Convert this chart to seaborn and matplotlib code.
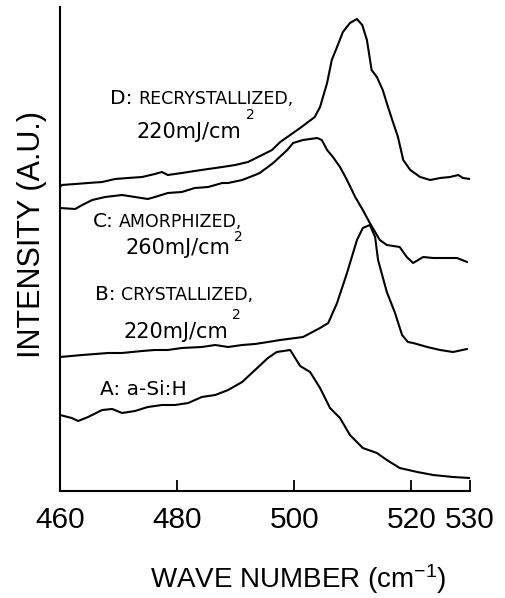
import matplotlib
matplotlib.use("Agg")
import matplotlib.pyplot as plt
import pandas as pd
import seaborn as sns

# Raman spectra, wave number (cm^-1) vs. intensity (arbitrary units, curves offset)
wn_a = [460.0, 462.0, 463.1, 464.8, 467.2, 468.9, 470.6, 472.8, 475.0, 477.4,
        479.6, 481.9, 484.2, 486.5, 488.7, 491.1, 493.3, 495.5, 497.0, 499.3,
        501.0, 502.7, 504.4, 506.1, 507.8, 509.5, 511.7, 514.1, 515.8, 518.0,
        521.0, 523.7, 527.1, 530.0]
int_a = [76, 73, 70, 74, 81, 82, 78, 80, 84, 86,
         86, 88, 94, 96, 101, 109, 121, 133, 139, 141,
         125, 119, 103, 83, 73, 56, 43, 38, 31, 23,
         19, 16, 14, 13]

wn_b = [460.0, 463.8, 466.0, 468.2, 470.6, 474.0, 476.2, 478.4, 480.8, 484.2,
        486.5, 488.7, 491.1, 493.3, 495.5, 497.6, 501.5, 504.4, 505.8, 507.3,
        509.0, 510.7, 511.7, 512.9, 513.8, 514.3, 515.8, 517.2, 518.4, 519.4,
        520.3, 522.7, 524.9, 527.1, 529.5]
int_b = [134, 136, 137, 138, 138, 140, 141, 141, 143, 144,
         146, 144, 146, 147, 149, 151, 154, 163, 168, 188,
         218, 251, 263, 266, 254, 231, 199, 178, 156, 149,
         148, 144, 141, 139, 142]

wn_c = [460.0, 462.6, 463.8, 465.5, 467.7, 470.6, 472.8, 475.0, 476.2, 478.4,
        480.8, 483.0, 485.3, 487.7, 488.7, 491.1, 493.3, 494.1, 496.4, 498.8,
        499.8, 501.5, 503.9, 504.7, 505.6, 506.6, 507.8, 509.0, 510.4, 511.7,
        512.9, 514.6, 515.8, 518.0, 519.2, 520.3, 522.0, 523.7, 526.1, 527.8,
        529.5]
int_c = [283, 282, 286, 291, 294, 296, 294, 292, 294, 298,
         299, 303, 304, 308, 308, 311, 316, 318, 328, 341,
         348, 351, 353, 351, 341, 334, 324, 311, 294, 281,
         268, 251, 246, 244, 234, 228, 234, 233, 233, 233,
         229]

wn_d = [460.0, 460.3, 462.6, 464.8, 467.2, 469.4, 471.6, 474.0, 476.2, 477.4,
        478.4, 480.8, 483.0, 485.3, 487.7, 489.9, 492.1, 494.5, 496.2, 497.6,
        501.0, 503.5, 504.4, 505.6, 506.4, 507.3, 508.3, 509.5, 510.7, 511.6,
        512.4, 513.2, 514.1, 515.1, 516.0, 516.9, 517.7, 518.6, 519.8, 521.5,
        523.2, 524.9, 526.6, 528.0, 528.8, 530.0]
int_d = [304, 306, 307, 308, 309, 312, 313, 314, 317, 319,
         316, 318, 320, 322, 324, 326, 329, 336, 341, 349,
         363, 374, 384, 408, 431, 444, 459, 468, 472, 466,
         451, 421, 414, 401, 384, 368, 354, 331, 321, 314,
         311, 313, 314, 316, 313, 312]

tick_values = [460, 480, 500, 520, 530]
tick_labels = ["460", "480", "500", "520", "530"]

frames = []
for name, wn, inten in [("A", wn_a, int_a), ("B", wn_b, int_b),
                        ("C", wn_c, int_c), ("D", wn_d, int_d)]:
    frames.append(pd.DataFrame({"wavenumber": wn, "intensity": inten,
                                "spectrum": name}))
df = pd.concat(frames, ignore_index=True)

sns.set_style("ticks")
plt.rcParams["font.family"] = ["Liberation Sans", "DejaVu Sans"]
plt.rcParams["mathtext.fontset"] = "custom"
plt.rcParams["mathtext.rm"] = "Liberation Sans"
plt.rcParams["mathtext.it"] = "Liberation Sans:italic"
plt.rcParams["mathtext.bf"] = "Liberation Sans:bold"
plt.rcParams["text.color"] = "black"
plt.rcParams["axes.labelcolor"] = "black"
plt.rcParams["xtick.color"] = "black"
plt.rcParams["ytick.color"] = "black"

fig = plt.figure(figsize=(5.06, 5.98), dpi=100)
ax = fig.add_axes([60 / 506, (598 - 491) / 598, 410 / 506, 484 / 598])

sns.lineplot(data=df, x="wavenumber", y="intensity", units="spectrum",
             estimator=None, sort=False, color="black", linewidth=1.5,
             legend=False, ax=ax)

ax.set_xlim(460, 530)
ax.set_ylim(0, 484)
sns.despine(ax=ax)
for sp in ("left", "bottom"):
    ax.spines[sp].set_linewidth(1.5)
    ax.spines[sp].set_color("black")

ax.set_yticks([])
ax.set_xticks(tick_values)
ax.set_xticklabels(tick_labels)
ax.tick_params(axis="x", direction="in", length=8, width=1.3, pad=11,
               labelsize=21.5, colors="black")

ax.set_xlabel("WAVE NUMBER (cm$^{-1}$)", fontsize=20)
ax.xaxis.set_label_coords(0.58, -0.147)
ax.set_ylabel("INTENSITY (A.U.)", fontsize=22)
ax.yaxis.set_label_coords(-0.032, 0.53)

# Curve annotations: large initial letter, small-caps description, fluence line
ann_font = ["DejaVu Sans"]


def label(x, y, head, body, x2=None, y2=None, fluence=None, sup_dy=-1):
    t_head = ax.text(x, y, head, fontsize=14.5, family=ann_font,
                     va="baseline", ha="left")
    if body:
        ax.annotate(body, xy=(1, 0), xycoords=t_head, xytext=(4, 0),
                    textcoords="offset points", fontsize=12.5,
                    family=ann_font, va="bottom", ha="left")
    if fluence:
        t_fl = ax.text(x2, y2, fluence, fontsize=15, family=ann_font,
                       va="baseline", ha="left")
        ax.annotate("2", xy=(1, 1), xycoords=t_fl, xytext=(3, sup_dy),
                    textcoords="offset points", fontsize=10,
                    family=ann_font, va="bottom", ha="left")


label(468.5, 387, "D:", "RECRYSTALLIZED,", 473.1, 353, "220mJ/cm", sup_dy=0)
label(465.6, 264, "C:", "AMORPHIZED,", 471.1, 237, "260mJ/cm", sup_dy=-4)
label(466.0, 191, "B:", "CRYSTALLIZED,", 470.8, 153, "220mJ/cm", sup_dy=0)
label(466.8, 96, "A: a-Si:H", None)

fig.savefig("out.png", dpi=100)
